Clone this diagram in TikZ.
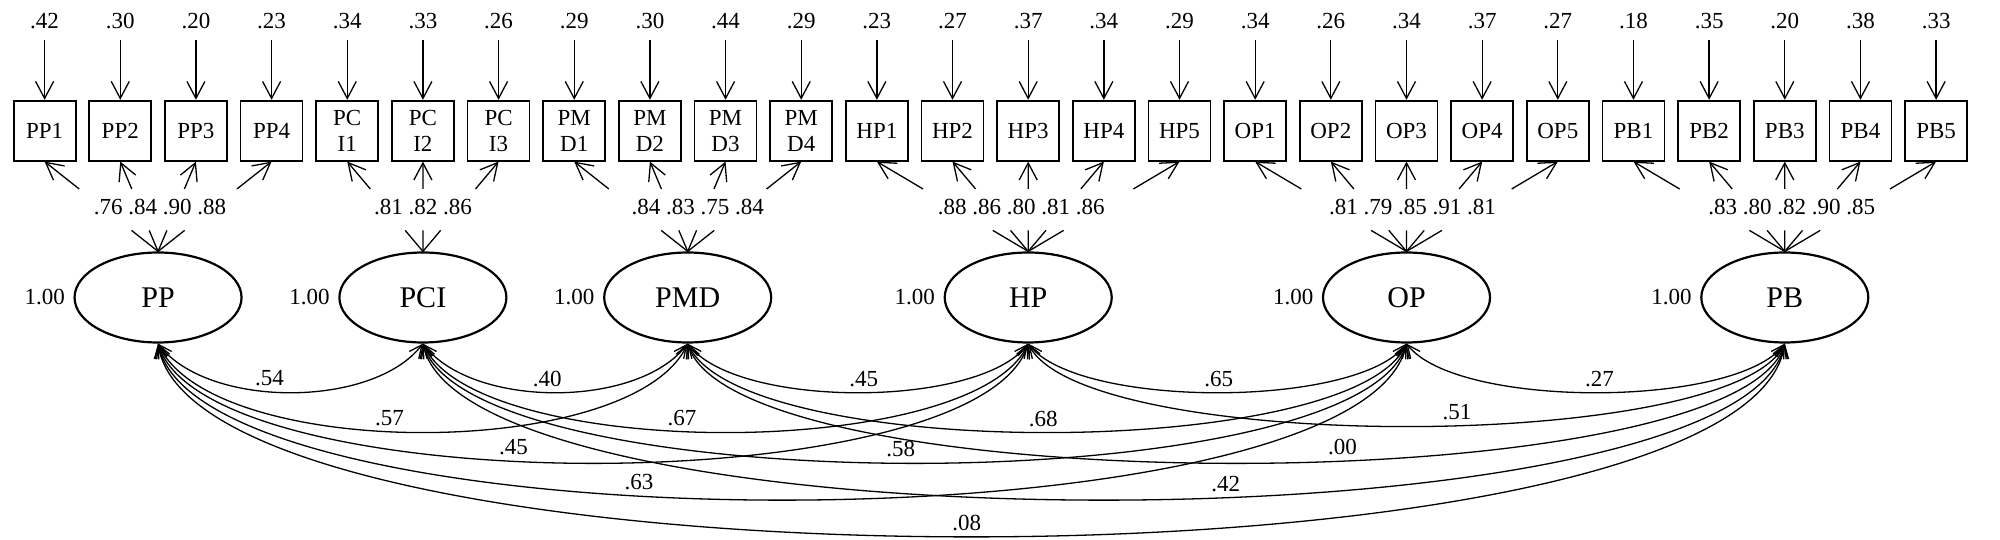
\documentclass[tikz,border=0pt]{standalone}
\usepackage{fontspec}
\setmainfont{Liberation Serif}
\usetikzlibrary{arrows.meta,calc,positioning,shapes.geometric}

\tikzset{
  item/.style={draw,line width=.9pt,minimum width=31pt,minimum height=30pt,inner sep=0pt,
    align=center,font=\fontsize{11.5}{12.9}\selectfont},
  latent/.style={draw,ellipse,line width=1.1pt,minimum width=83.5pt,minimum height=45pt,
    inner sep=0pt,font=\fontsize{15}{18}\selectfont},
  num/.style={inner sep=2.5pt,font=\fontsize{11.5}{13}\selectfont},
  tip/.style={-{Straight Barb[length=8.5pt,width=9pt]}},
  cov/.style={{Straight Barb[length=6.5pt,width=6pt]}-{Straight Barb[length=6.5pt,width=6pt]}},
}

\begin{document}
\begin{tikzpicture}[x=.5pt,y=.5pt,line width=.65pt]
  \useasboundingbox (0,0) rectangle (2000,540);
  % observed items with their error variances
  \foreach \name/\lab/\err [count=\i from 0] in {PP1/PP1/.42,PP2/PP2/.30,PP3/PP3/.20,PP4/PP4/.23,
      PCI1/{PC\\I1}/.34,PCI2/{PC\\I2}/.33,PCI3/{PC\\I3}/.26,
      PMD1/{PM\\D1}/.29,PMD2/{PM\\D2}/.30,PMD3/{PM\\D3}/.44,PMD4/{PM\\D4}/.29,
      HP1/HP1/.23,HP2/HP2/.27,HP3/HP3/.37,HP4/HP4/.34,HP5/HP5/.29,
      OP1/OP1/.34,OP2/OP2/.26,OP3/OP3/.34,OP4/OP4/.37,OP5/OP5/.27,
      PB1/PB1/.18,PB2/PB2/.35,PB3/PB3/.20,PB4/PB4/.38,PB5/PB5/.33}{
    \node[item] (\name) at (44.6+75.66*\i,409.3) {\lab};
    \node[num,inner ysep=5pt] (e\name) at (44.6+75.66*\i,518.6) {\err};
    \draw[tip] (e\name) -- (\name);
  }
  % latent factors
  \node[latent] (PP)  at (158.05,242.5) {PP};
  \node[latent] (PCI) at (422.9,242.5)  {PCI};
  \node[latent] (PMD) at (687.7,242.5)  {PMD};
  \node[latent] (HP)  at (1028.2,242.5) {HP};
  \node[latent] (OP)  at (1406.5,242.5) {OP};
  \node[latent] (PB)  at (1784.8,242.5) {PB};
  \foreach \lat in {PP,PCI,PMD,HP,OP,PB}
    \node[num,left=1.5pt of \lat] (v\lat) {1.00};
  % loadings
  \foreach \lat/\items in {PP/{PP1,PP2,PP3,PP4},PCI/{PCI1,PCI2,PCI3},PMD/{PMD1,PMD2,PMD3,PMD4},
      HP/{HP1,HP2,HP3,HP4,HP5},OP/{OP1,OP2,OP3,OP4,OP5},PB/{PB1,PB2,PB3,PB4,PB5}}
    \foreach \it in \items {
      \draw[tip] ($(\lat.north)!.695!(\it.south)$) -- (\it.south);
      \draw ($(\lat.north)!.234!(\it.south)$) -- (\lat.north);
    }
  \node[num] (lPP)  at ($(PP.north)+(2,44.5)$)  {.76 .84 .90 .88};
  \node[num] (lPCI) at ($(PCI.north)+(0,44.5)$) {.81 .82 .86};
  \node[num] (lPMD) at ($(PMD.north)+(10,44.5)$) {.84 .83 .75 .84};
  \node[num] (lHP)  at ($(HP.north)+(-7,44.5)$)  {.88 .86 .80 .81 .86};
  \node[num] (lOP)  at ($(OP.north)+(6,44.5)$)   {.81 .79 .85 .91 .81};
  \node[num] (lPB)  at ($(PB.north)+(7,44.5)$)   {.83 .80 .82 .90 .85};
  % correlations between factors
  \foreach \a/\b/\dx/\dy/\t/\v in {PP/PCI/50/65/.435/.54,PCI/PMD/50/65/.475/.40,
      PMD/HP/50/65/.513/.45,HP/OP/50/65/.503/.65,OP/PB/50/65/.508/.27,
      PP/PMD/55/118/.453/.57,PCI/HP/55/118/.447/.67,PMD/OP/55/118/.496/.68,
      HP/PB/55/110/.548/.51,PP/HP/50/159/.435/.45,PCI/OP/50/159/.49/.58,
      PMD/PB/50/159/.568/.00,PP/OP/45/208/.42/.63,PCI/PB/45/208/.562/.42,
      PP/PB/40/257/.498/.08}
    \draw[cov] (\a.south) .. controls +(\dx,-\dy) and +(-\dx,-\dy) ..
      node[num,pos=\t,above] (r\a\b) {\v} (\b.south);
\end{tikzpicture}
\end{document}
